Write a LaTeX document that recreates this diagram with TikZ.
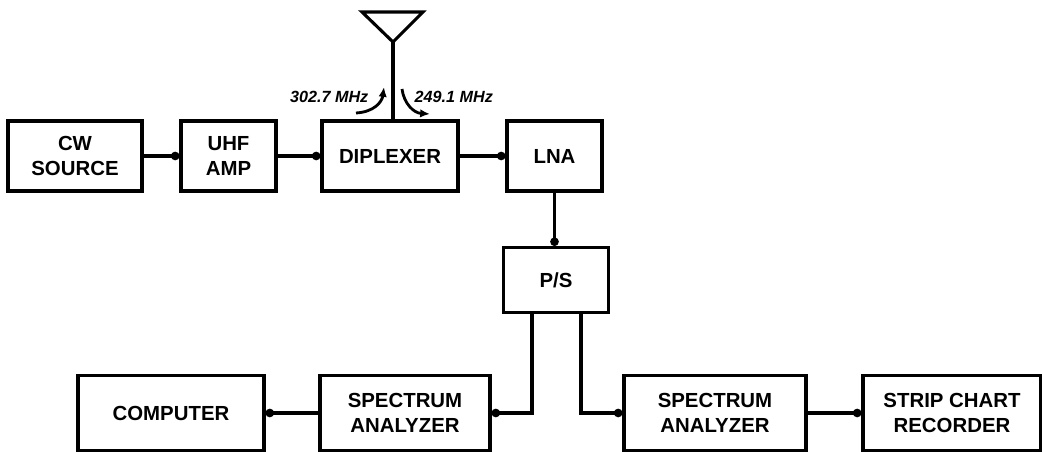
\documentclass[tikz,border=0pt]{standalone}
\usepackage{fontspec}
\setmainfont{Liberation Sans}
\usepackage{tikz}
\usetikzlibrary{arrows.meta}

\begin{document}
\begin{tikzpicture}[x=0.025cm, y=-0.025cm,
    blk/.style={rectangle, draw, line width=2.2pt, align=center, minimum height=1.75cm, font=\fontsize{14.5}{17.8}\selectfont\bfseries},
    link/.style={line width=2.4pt, -{Circle[length=6pt]}},
    freq/.style={line width=2pt, -{Latex[length=7pt,width=6pt]}},
    flab/.style={font=\fontsize{11.5}{13}\selectfont\bfseries\itshape, inner sep=1pt}]

    \useasboundingbox (0,0) rectangle (1042,452);

    \node[blk, minimum width=3.35cm] (CW) at (75,156) {CW\\SOURCE};
    \node[blk, minimum width=2.375cm] (UHF) at (228.5,156) {UHF\\AMP};
    \node[blk, minimum width=3.4cm] (DIP) at (390,156) {DIPLEXER};
    \node[blk, minimum width=2.375cm] (LNA) at (554.5,156) {LNA};

    \node[blk, minimum width=2.625cm, minimum height=1.625cm] (PS) at (556,280) {P/S};

    \node[blk, minimum width=4.65cm, minimum height=1.875cm] (COMP) at (171,413) {COMPUTER};
    \node[blk, minimum width=4.25cm, minimum height=1.875cm] (SA1) at (405,413) {SPECTRUM\\ANALYZER};
    \node[blk, minimum width=4.55cm, minimum height=1.875cm] (SA2) at (715,413) {SPECTRUM\\ANALYZER};
    \node[blk, minimum width=4.45cm, minimum height=1.875cm] (REC) at (952,413) {STRIP CHART\\RECORDER};

    % antenna
    \draw[line width=2.2pt, line join=miter] (362,12) -- (423,12) -- (393,42) -- cycle;
    \coordinate (ANT) at (393,42);
    \draw[line width=2.2pt] (ANT) -- (DIP.north -| ANT);

    \node[flab, anchor=east] (F1) at (370,97) {302.7 MHz};
    \node[flab, anchor=west] (F2) at (413,97) {249.1 MHz};
    \coordinate (F1a) at (356,113);
    \coordinate (F1b) at (384,87);
    \coordinate (F2a) at (402,89);
    \coordinate (F2b) at (430,114);
    \draw[freq] (F1a) .. controls (374,112) and (382,102) .. (F1b);
    \draw[freq] (F2a) .. controls (404,104) and (414,113) .. (F2b);

    \draw[link] (CW) -- (UHF);
    \draw[link] (UHF) -- (DIP);
    \draw[link] (DIP) -- (LNA);
    \draw[link] (LNA.south) -- (PS.north -| LNA.south);
    \draw[link] ([xshift=-0.6cm]PS.south) |- (SA1.east);
    \draw[link] ([xshift=0.625cm]PS.south) |- (SA2.west);
    \draw[link] (SA1) -- (COMP);
    \draw[link] (SA2) -- (REC);
\end{tikzpicture}
\end{document}
